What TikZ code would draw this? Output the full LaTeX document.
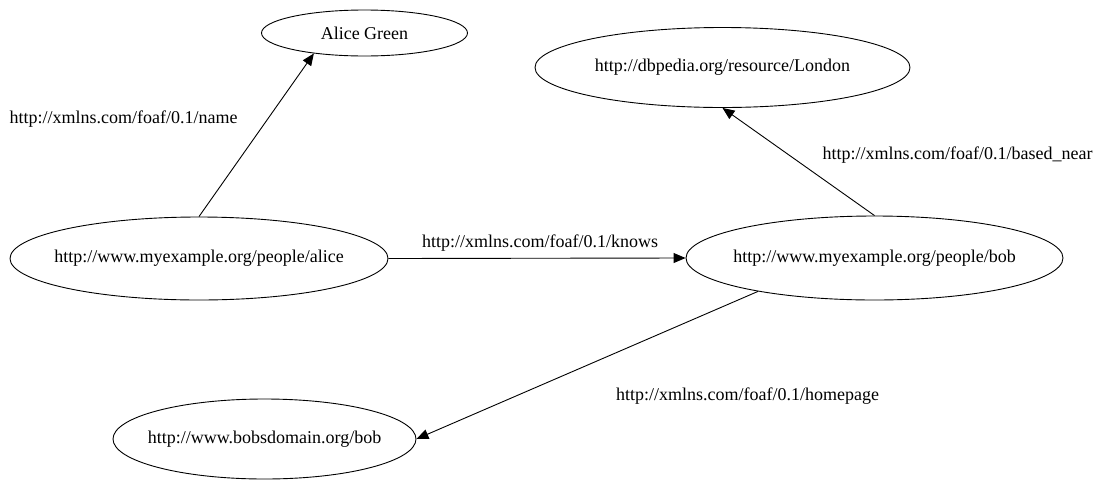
\documentclass[tikz,border=0pt]{standalone}
\usepackage{fontspec}
\setmainfont{Liberation Serif}
\usetikzlibrary{shapes.geometric,arrows.meta}
% zero-width text box, so that the ellipse size comes from the minimum size only
\newcommand\zwtext[1]{\makebox[0pt]{#1}}
\begin{document}
\begin{tikzpicture}[x=1pt,y=-1pt,
  res/.style={draw, ellipse, inner sep=0pt, line width=0.9pt,
    font=\fontsize{18}{20}\selectfont},
  rel/.style={inner sep=0pt, font=\fontsize{18}{20}\selectfont},
  link/.style={draw, line width=0.9pt, -{Triangle[length=12pt,width=10pt]}}]
\useasboundingbox (0,0) rectangle (1095,480);

% resources
\node[res, minimum width=206pt, minimum height=46pt] (green) at (364.5,33) {\zwtext{Alice Green}};
\node[res, minimum width=375pt, minimum height=80pt] (london) at (722.5,67.5) {\zwtext{http://dbpedia.org/resource/London}};
\node[res, minimum width=378pt, minimum height=83pt] (alice) at (199,258.5) {\zwtext{http://www.myexample.org/people/alice}};
\node[res, minimum width=377pt, minimum height=84pt] (bob) at (874.5,258) {\zwtext{http://www.myexample.org/people/bob}};
\node[res, minimum width=303pt, minimum height=80pt] (home) at (264.5,439) {\zwtext{http://www.bobsdomain.org/bob}};

% properties
\draw[link] (alice.north) -- (green.202);
\draw[link] (alice.east) -- (bob.west);
\draw[link] (bob.north) -- (london.south);
\draw[link] (bob.196.5) -- (home.east);

% property labels
\node[rel] (lname) at (123.5,119) {http://xmlns.com/foaf/0.1/name};
\node[rel] (lknows) at (540,243) {http://xmlns.com/foaf/0.1/knows};
\node[rel] (lnear) at (957.5,155) {http://xmlns.com/foaf/0.1/based\_near};
\node[rel] (lhome) at (747.5,396) {http://xmlns.com/foaf/0.1/homepage};
\end{tikzpicture}
\end{document}
